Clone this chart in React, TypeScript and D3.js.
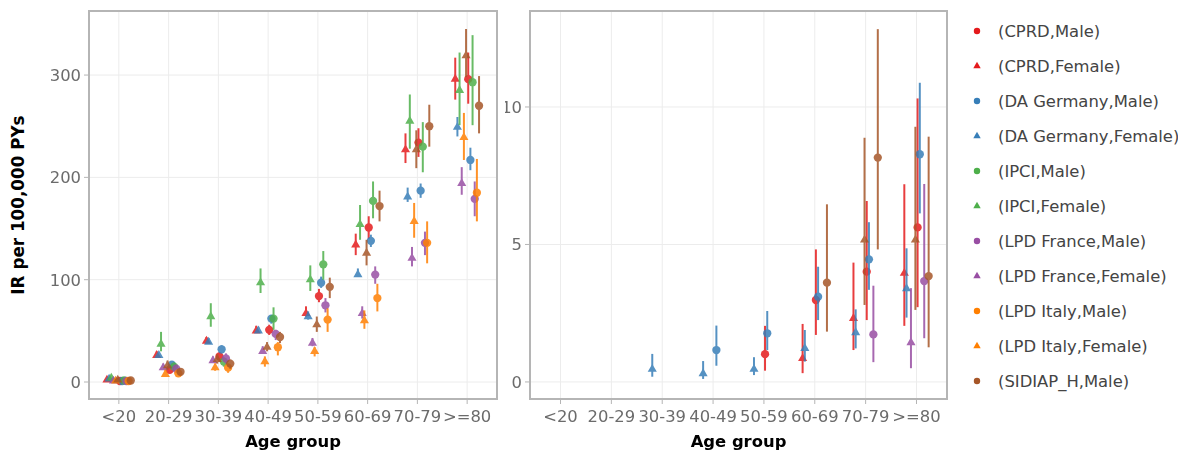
import React from "react";
import * as d3 from "d3";

// Age bands on the x axis
const AGE_GROUPS = ["<20", "20-29", "30-39", "40-49", "50-59", "60-69", "70-79", ">=80"];

// Tick values for the two y axes
const ALL_Y_TICKS = [0, 100, 200, 300];
const HOSP_Y_TICKS = [0, 5, 10];

// Data sources and sexes (order drives colour and dodge position)
const SOURCES = ["CPRD", "DA Germany", "IPCI", "LPD France", "LPD Italy", "SIDIAP_H"];
const SOURCE_COLORS = ["#e41a1c", "#377eb8", "#4daf4a", "#984ea3", "#ff7f00", "#a65628"];
const SEXES = ["Male", "Female"];

type Est = [number, number, number] | null; // [IR, lower, upper]

// Incidence rates per 100,000 person-years, all events (left panel)
const allCprdMale: Est[] = [[1, 0.5, 1.8], [12, 8.5, 15], [25, 20, 29], [51, 46, 56], [84, 78, 91], [151, 140, 162], [234, 220, 248], [296, 272, 322]];
const allCprdFemale: Est[] = [[3, 2, 4], [27, 25, 30], [41, 38, 44], [51, 48, 55], [68, 64, 74], [135, 124, 145], [228, 214, 243], [297, 276, 317]];
const allDaMale: Est[] = [[1, 0.6, 1.6], [17, 14, 20], [32, 28, 36], [62, 57, 65], [97, 92, 103], [138, 132, 144], [187, 180, 194], [217, 207, 229]];
const allDaFemale: Est[] = [[4, 3, 5], [27, 25, 29], [40, 38, 43], [51, 48, 54], [65, 61, 69], [106, 103, 111], [182, 176, 190], [250, 240, 259]];
const allIpciMale: Est[] = [[1.5, 0.5, 2.5], [15, 11, 19], [20, 15, 24], [62, 51, 73], [115, 100, 128], [177, 160, 196], [230, 205, 254], [293, 251, 339]];
const allIpciFemale: Est[] = [[5, 3, 7], [38, 30, 49], [65, 54, 77], [98, 87, 111], [101, 89, 114], [155, 139, 173], [256, 228, 281], [286, 251, 322]];
const allFranceMale: Est[] = [[1, 0.5, 1.6], [13, 10, 17], [23, 18, 28], [47, 41, 51], [75, 68, 82], [105, 96, 113], [136, 124, 147], [179, 162, 196]];
const allFranceFemale: Est[] = [[2, 1, 3], [15, 12, 18], [22, 19, 25], [31, 28, 35], [39, 35, 43], [68, 62, 74], [122, 113, 132], [195, 183, 210]];
const allItalyMale: Est[] = [[1, 0.5, 1.8], [8.5, 5, 12], [14, 9, 18], [34, 26, 39], [61, 49, 72], [82, 69, 96], [136, 116, 157], [185, 157, 218]];
const allItalyFemale: Est[] = [[2, 1, 3], [8.5, 5, 12], [15, 11, 18], [21, 15, 25], [31, 25, 34], [61, 52, 70], [158, 141, 175], [240, 217, 263]];
const allSidiapMale: Est[] = [[1.5, 0.8, 2.2], [10, 7, 13], [18, 13, 22], [44, 38, 49], [93, 82, 102], [172, 157, 187], [250, 230, 271], [270, 243, 299]];
const allSidiapFemale: Est[] = [[3, 2, 4], [17, 12, 21], [23, 18, 27], [35, 30, 39], [57, 49, 64], [127, 114, 139], [228, 209, 246], [320, 298, 345]];

// Incidence rates per 100,000 person-years, hospitalised events (right panel)
const hospCprdMale: Est[] = [null, null, null, null, [1.01, 0.41, 2.04], [2.98, 1.71, 4.82], [4.01, 2.25, 6.58], [5.62, 2.72, 10.31]];
const hospCprdFemale: Est[] = [null, null, null, null, null, [0.89, 0.32, 2.11], [2.35, 1.16, 4.34], [3.99, 2.04, 7.19]];
const hospDaMale: Est[] = [null, null, null, [1.16, 0.59, 2.05], [1.77, 1.16, 2.58], [3.1, 2.25, 4.19], [4.46, 3.35, 5.81], [8.28, 6.13, 10.88]];
const hospDaFemale: Est[] = [null, null, [0.5, 0.19, 1.02], [0.34, 0.11, 0.76], [0.5, 0.25, 0.9], [1.26, 0.74, 1.89], [1.83, 1.22, 2.64], [3.43, 2.34, 4.86]];
const hospIpciMale: Est[] = [null, null, null, null, null, null, null, null];
const hospIpciFemale: Est[] = [null, null, null, null, null, null, null, null];
const hospFranceMale: Est[] = [null, null, null, null, null, null, [1.73, 0.72, 3.5], [3.67, 1.59, 7.2]];
const hospFranceFemale: Est[] = [null, null, null, null, null, null, null, [1.47, 0.5, 3.41]];
const hospItalyMale: Est[] = [null, null, null, null, null, null, null, null];
const hospItalyFemale: Est[] = [null, null, null, null, null, null, null, null];
const hospSidiapMale: Est[] = [null, null, null, null, null, [3.61, 1.83, 6.46], [8.16, 4.82, 12.83], [3.85, 1.26, 8.92]];
const hospSidiapFemale: Est[] = [null, null, null, null, null, null, [5.2, 2.8, 8.88], [5.2, 2.62, 9.28]];

const ALL_DATA: Est[][][] = [
  [allCprdMale, allCprdFemale],
  [allDaMale, allDaFemale],
  [allIpciMale, allIpciFemale],
  [allFranceMale, allFranceFemale],
  [allItalyMale, allItalyFemale],
  [allSidiapMale, allSidiapFemale],
];
const HOSP_DATA: Est[][][] = [
  [hospCprdMale, hospCprdFemale],
  [hospDaMale, hospDaFemale],
  [hospIpciMale, hospIpciFemale],
  [hospFranceMale, hospFranceFemale],
  [hospItalyMale, hospItalyFemale],
  [hospSidiapMale, hospSidiapFemale],
];

interface Series {
  label: string;
  color: string;
  female: boolean;
  dodge: number;
  all: Est[];
  hosp: Est[];
}

const SERIES: Series[] = [];
SOURCES.forEach((src, si) => {
  SEXES.forEach((sex, xi) => {
    const female = sex === "Female";
    SERIES.push({
      label: `(${src},${sex})`,
      color: SOURCE_COLORS[si],
      female,
      dodge: (female ? 0 : 6) + si,
      all: ALL_DATA[si][xi],
      hosp: HOSP_DATA[si][xi],
    });
  });
});

const FONT = "'DejaVu Sans', Verdana, sans-serif";
const TICK_COLOR = "#6b6b6b";
const GRID_COLOR = "#ececec";
const FRAME_COLOR = "#b5b5b5";
const TICK_SIZE = 16.4;

const TOP = 11;
const BOTTOM = 399;

const circlePath = d3.symbol(d3.symbolCircle, 54)()!;
const trianglePath = d3.symbol(d3.symbolTriangle, 36)()!;
const legendCircle = d3.symbol(d3.symbolCircle, 32)()!;
const legendTriangle = d3.symbol(d3.symbolTriangle, 24)()!;

interface PanelProps {
  x0: number;
  x1: number;
  yDomain: [number, number];
  ticks: number[];
  pick: (s: Series) => Est[];
  labelClipX?: number;
  id: string;
}

function Panel({ x0, x1, yDomain, ticks, pick, labelClipX, id }: PanelProps) {
  const x = d3.scalePoint<string>().domain(AGE_GROUPS).range([x0, x1]).padding(0.6);
  const y = d3.scaleLinear().domain(yDomain).range([BOTTOM, TOP]);
  const step = x.step();
  const dodge = (k: number) => (k - 5.5) * 0.0435 * step;

  return (
    <g>
      <defs>
        <clipPath id={`${id}-plot`}>
          <rect x={x0} y={TOP} width={x1 - x0} height={BOTTOM - TOP} />
        </clipPath>
        {labelClipX !== undefined && (
          <clipPath id={`${id}-lab`}>
            <rect x={labelClipX} y={0} width={x0 - labelClipX} height={452} />
          </clipPath>
        )}
      </defs>
      <rect x={x0} y={TOP} width={x1 - x0} height={BOTTOM - TOP} fill="#fff" />
      {/* grid */}
      {ticks.map((t) => (
        <line key={`gy${t}`} x1={x0} x2={x1} y1={y(t)} y2={y(t)} stroke={GRID_COLOR} strokeWidth={1} />
      ))}
      {AGE_GROUPS.map((a) => (
        <line key={`gx${a}`} x1={x(a)} x2={x(a)} y1={TOP} y2={BOTTOM} stroke={GRID_COLOR} strokeWidth={1} />
      ))}
      {/* marks */}
      <g clipPath={`url(#${id}-plot)`}>
        {SERIES.map((s) => (
          <g key={s.label} opacity={0.85}>
            {pick(s).map((e, i) => {
              if (!e) return null;
              const cx = (x(AGE_GROUPS[i]) as number) + dodge(s.dodge);
              return (
                <g key={i}>
                  <line x1={cx} x2={cx} y1={y(e[1])} y2={y(e[2])} stroke={s.color} strokeWidth={2} />
                  <path
                    d={s.female ? trianglePath : circlePath}
                    transform={`translate(${cx},${y(e[0]) + (s.female ? 1 : 0)})`}
                    fill={s.color}
                  />
                </g>
              );
            })}
          </g>
        ))}
      </g>
      {/* frame */}
      <rect x={x0} y={TOP} width={x1 - x0} height={BOTTOM - TOP} fill="none" stroke={FRAME_COLOR} strokeWidth={2} />
      {/* y axis */}
      <g clipPath={labelClipX !== undefined ? `url(#${id}-lab)` : undefined}>
        {ticks.map((t) => (
          <g key={`ty${t}`}>
            <line x1={x0 - 5} x2={x0 - 1} y1={y(t)} y2={y(t)} stroke={FRAME_COLOR} strokeWidth={1} />
            <text x={x0 - 8} y={y(t)} dy="0.36em" textAnchor="end" fontSize={TICK_SIZE} fill={TICK_COLOR} fontFamily={FONT}>
              {t}
            </text>
          </g>
        ))}
      </g>
      {/* x axis */}
      {AGE_GROUPS.map((a) => (
        <g key={`tx${a}`}>
          <line x1={x(a)} x2={x(a)} y1={BOTTOM + 1} y2={BOTTOM + 5} stroke={FRAME_COLOR} strokeWidth={1} />
          <text x={x(a)} y={BOTTOM + 17} dy="0.36em" textAnchor="middle" fontSize={TICK_SIZE} fill={TICK_COLOR} fontFamily={FONT}>
            {a}
          </text>
        </g>
      ))}
      <text
        x={(x0 + x1) / 2}
        y={441}
        dy="0.36em"
        textAnchor="middle"
        fontSize={16.4}
        fontWeight="bold"
        fill="#000"
        fontFamily={FONT}
      >
        Age group
      </text>
    </g>
  );
}

function Legend() {
  const top = 31;
  const gap = 35;
  return (
    <g>
      <defs>
        <clipPath id="legend-clip">
          <rect x={960} y={10} width={230} height={388} />
        </clipPath>
      </defs>
      <g clipPath="url(#legend-clip)">
        {SERIES.map((s, i) => (
          <g key={s.label} transform={`translate(0,${top + i * gap})`}>
            <path d={s.female ? legendTriangle : legendCircle} transform="translate(977,0)" fill={s.color} />
            <text x={998} y={0} dy="0.36em" fontSize={16.4} fill="#444" fontFamily={FONT}>
              {s.label}
            </text>
          </g>
        ))}
      </g>
    </g>
  );
}

export default function App() {
  return (
    <div style={{ position: "absolute", left: 0, top: 0 }}>
      <svg width={1178} height={452} style={{ display: "block", background: "#fff" }}>
        <Panel id="hosp" x0={530} x1={947} yDomain={[-0.62, 13.49]} ticks={HOSP_Y_TICKS} pick={(s) => s.hosp} labelClipX={505} />
        <Panel id="all" x0={89} x1={497} yDomain={[-16.6, 362.6]} ticks={ALL_Y_TICKS} pick={(s) => s.all} />
        <text
          transform={`translate(18,${(TOP + BOTTOM) / 2}) rotate(-90)`}
          dy="0.36em"
          textAnchor="middle"
          fontSize={16.8}
          fontWeight="bold"
          fill="#000"
          fontFamily={FONT}
        >
          IR per 100,000 PYs
        </text>
        <Legend />
      </svg>
    </div>
  );
}
